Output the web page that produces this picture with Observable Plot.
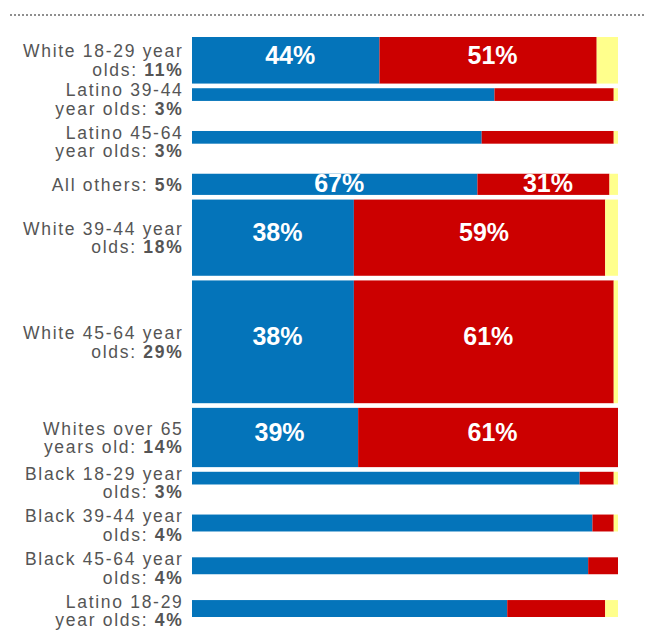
<!DOCTYPE html>
<html>
<head>
<meta charset="utf-8">
<script src="https://cdn.jsdelivr.net/npm/d3@7"></script>
<script src="https://cdn.jsdelivr.net/npm/@observablehq/plot@0.6"></script>
<style>
  html, body { margin: 0; padding: 0; background: #fff; }
  #wrap { position: relative; width: 646px; height: 633px; }
  #dots { position: absolute; top: 14px; left: 10px; right: 2px; height: 0; border-top: 2px dotted #8f8f8f; }
  #chart { position: absolute; top: 0; left: 0; }
</style>
</head>
<body>
<div id="wrap"><div id="dots"></div><div id="chart"></div></div>
<script>
// ---- data ----
const labelPrefix = [
  "White 18-29 year\nolds: ",
  "Latino 39-44\nyear olds: ",
  "Latino 45-64\nyear olds: ",
  "All others: ",
  "White 39-44 year\nolds: ",
  "White 45-64 year\nolds: ",
  "Whites over 65\nyears old: ",
  "Black 18-29 year\nolds: ",
  "Black 39-44 year\nolds: ",
  "Black 45-64 year\nolds: ",
  "Latino 18-29\nyear olds: "
];
const share      = [11, 3, 3, 5, 18, 29, 14, 3, 4, 4, 4];
const democrat   = [44, 71, 68, 67, 38, 38, 39, 91, 94, 93, 74];
const republican = [51, 28, 31, 31, 59, 61, 61, 8, 5, 7, 23];
const other      = [5, 1, 1, 2, 3, 1, 0, 1, 1, 0, 3];
const parties = ["Democrat", "Republican", "Other"];
const partyColors = ["#0474ba", "#cc0000", "#ffff8c"];

// ---- layout table built from the data (row heights proportional to share) ----
const GAP = 1.1, MIN_TWO_LINE = 10.1, MIN_ONE_LINE = 5;
let cursor = 0;
const rows = share.map((s, i) => {
  const lines = labelPrefix[i].includes("\n") ? 2 : 1;
  const r = {i, share: s, y1: cursor, y2: cursor + s, label: labelPrefix[i] + s + "%"};
  if (i < share.length - 1) cursor += Math.max(s + GAP, lines === 2 ? MIN_TWO_LINE : MIN_ONE_LINE);
  else cursor += s;
  return r;
});
const total = cursor;
const segments = [];
rows.forEach(r => {
  let cum = 0;
  [democrat[r.i], republican[r.i], other[r.i]].forEach((v, k) => {
    segments.push({party: parties[k], v, x1: cum, x2: cum + v, y1: r.y1, y2: r.y2, share: r.share});
    cum += v;
  });
});

const svg = Plot.plot({
  width: 646,
  height: 633,
  marginLeft: 192,
  marginRight: 28,
  marginTop: 37,
  marginBottom: 16,
  style: {fontFamily: "'Liberation Sans', Arial, sans-serif", background: "transparent"},
  x: {domain: [0, 100], axis: null},
  y: {domain: [0, total], axis: null, reverse: true},
  color: {domain: parties, range: partyColors},
  marks: [
    Plot.rect(segments.filter(d => d.v > 0), {
      x1: "x1", x2: "x2", y1: "y1", y2: "y2", fill: "party"
    }),
    Plot.text(segments.filter(d => d.share >= 5 && d.party !== "Other"), {
      x: d => (d.x1 + d.x2) / 2,
      y: d => Math.max((d.y1 + d.y2) / 2, d.y1 + 3.6),
      text: d => d.v + "%",
      fill: "white",
      fontSize: 25,
      fontWeight: "bold",
      dx: 4,
      dy: -5
    }),
    Plot.text(rows, {
      x: 0,
      y: d => Math.max((d.y1 + d.y2) / 2, d.y1 + 2.5),
      text: "label",
      textAnchor: "end",
      lineAnchor: "middle",
      lineHeight: 1.06,
      fontSize: 17.5,
      fill: "#555",
      dx: -9,
      dy: 0
    })
  ]
});

// row labels: letter spacing + bold trailing percentage
svg.querySelectorAll("text").forEach(t => {
  if (!t.textContent.includes(":")) return;
  t.setAttribute("letter-spacing", "1.7");
  const spans = t.querySelectorAll("tspan");
  const target = spans.length ? spans[spans.length - 1] : t;
  const m = target.textContent.match(/^(.*?)(\d+%)$/);
  if (!m) return;
  target.textContent = m[1];
  const b = document.createElementNS("http://www.w3.org/2000/svg", "tspan");
  b.setAttribute("font-weight", "bold");
  b.textContent = m[2];
  target.appendChild(b);
});

document.getElementById("chart").appendChild(svg);
</script>
</body>
</html>
